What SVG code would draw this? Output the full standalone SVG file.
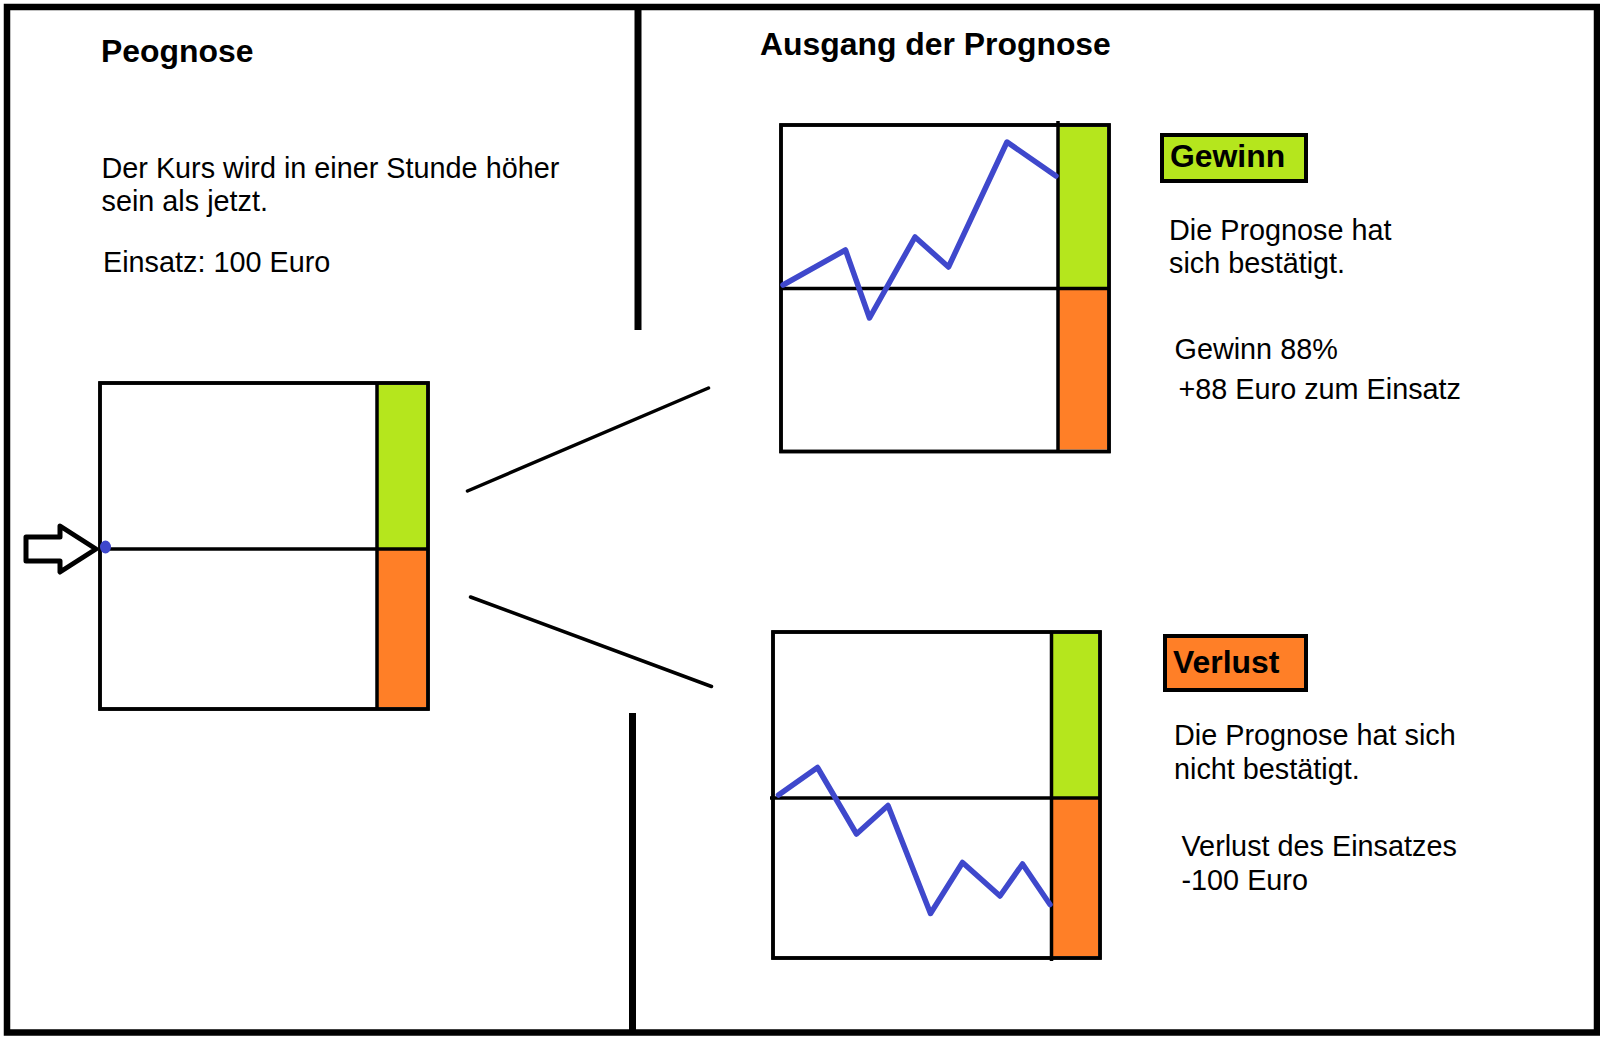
<svg xmlns="http://www.w3.org/2000/svg" width="1600" height="1045" viewBox="0 0 1600 1045">
<defs>
<style>
.t{font-family:"Liberation Sans",Arial,sans-serif;font-size:28.8px;fill:#000}
.b{font-family:"Liberation Sans",Arial,sans-serif;font-size:31.9px;font-weight:bold;fill:#000}
.frame{fill:#fff;stroke:#000;stroke-width:3.5}
.ln{stroke:#000;stroke-width:3.5;fill:none}
.green{fill:#b5e61d}
.orange{fill:#ff7f27}
.blue{fill:none;stroke:#3f48cc;stroke-width:5.5;stroke-linejoin:round;stroke-linecap:round}
.div{stroke:#000;stroke-width:7}
.conn{stroke:#000;stroke-width:3.5;stroke-linecap:round}
</style>
</defs>
<rect width="1600" height="1045" fill="#fff"/>
<g id="border">
<rect x="7" y="7" width="1590" height="1025.5" fill="none" stroke="#000" stroke-width="6.5"/>
<line class="div" x1="638" y1="4" x2="638" y2="330"/>
<line class="div" x1="632.5" y1="713" x2="632.5" y2="1032"/>
</g>
<g id="title-left">
<text class="b" x="101" y="61.5">Peognose</text>
</g>
<g id="title-right">
<text class="b" x="760" y="55">Ausgang der Prognose</text>
</g>
<g id="prognose-text">
<text class="t" x="101.5" y="178">Der Kurs wird in einer Stunde höher</text>
<text class="t" x="101.5" y="210.5">sein als jetzt.</text>
<text class="t" x="103" y="271.5">Einsatz: 100 Euro</text>
</g>
<g id="chart-start">
<rect class="frame" x="100" y="383" width="328" height="326"/>
<rect class="green" x="378" y="385" width="48" height="164"/>
<rect class="orange" x="378" y="549" width="48" height="158"/>
<line class="ln" x1="377" y1="383" x2="377" y2="709"/>
<line class="ln" x1="100" y1="549" x2="428" y2="549"/>
<rect x="100" y="383" width="328" height="326" fill="none" stroke="#000" stroke-width="3.5"/>
<ellipse cx="105.5" cy="547" rx="5.5" ry="6.5" fill="#3f48cc"/>
</g>
<g id="arrow">
<path d="M26,537 L60,537 L60,526 L96,549 L60,572 L60,561 L26,561 Z" fill="#fff" stroke="#000" stroke-width="5" stroke-linejoin="round"/>
</g>
<g id="connectors">
<line class="conn" x1="467.5" y1="491" x2="708.5" y2="388"/>
<line class="conn" x1="470.5" y1="597" x2="711.5" y2="686.5"/>
</g>
<g id="chart-win">
<rect class="frame" x="781" y="125" width="328" height="326.5"/>
<rect class="green" x="1059" y="127" width="48" height="161"/>
<rect class="orange" x="1059" y="288" width="48" height="161.5"/>
<line class="ln" x1="1058" y1="121" x2="1058" y2="451.5"/>
<line class="ln" x1="781" y1="288.5" x2="1109" y2="288.5"/>
<rect x="781" y="125" width="328" height="326.5" fill="none" stroke="#000" stroke-width="3.5"/>
<polyline class="blue" points="783,285 845.5,250 869.5,318 915,237 948.5,267 1007,142 1056,176"/>
</g>
<g id="label-gewinn">
<rect class="green" x="1162" y="135" width="144" height="46" stroke="#000" stroke-width="4"/>
<text class="b" x="1170" y="166.5">Gewinn</text>
</g>
<g id="text-gewinn">
<text class="t" x="1169" y="239.5">Die Prognose hat</text>
<text class="t" x="1169" y="272.5">sich bestätigt.</text>
<text class="t" x="1174.5" y="358.5">Gewinn 88%</text>
<text class="t" x="1178.5" y="399">+88 Euro zum Einsatz</text>
</g>
<g id="chart-loss">
<rect class="frame" x="773" y="632" width="327" height="326"/>
<rect class="green" x="1052" y="634" width="46" height="164"/>
<rect class="orange" x="1052" y="798" width="46" height="158"/>
<line class="ln" x1="1051.5" y1="632" x2="1051.5" y2="961"/>
<line class="ln" x1="770" y1="798" x2="1100" y2="798"/>
<rect x="773" y="632" width="327" height="326" fill="none" stroke="#000" stroke-width="3.5"/>
<polyline class="blue" points="778.5,795 817.5,767.5 856.5,834 888,805.5 930.5,913.5 962.5,862.5 1000,896 1022.5,864 1050,904.5"/>
</g>
<g id="label-verlust">
<rect class="orange" x="1165" y="636" width="141" height="54" stroke="#000" stroke-width="4"/>
<text class="b" x="1173" y="673">Verlust</text>
</g>
<g id="text-verlust">
<text class="t" x="1174" y="745">Die Prognose hat sich</text>
<text class="t" x="1174" y="778.5">nicht bestätigt.</text>
<text class="t" x="1181.5" y="856">Verlust des Einsatzes</text>
<text class="t" x="1181.5" y="889.5">-100 Euro</text>
</g>
</svg>
